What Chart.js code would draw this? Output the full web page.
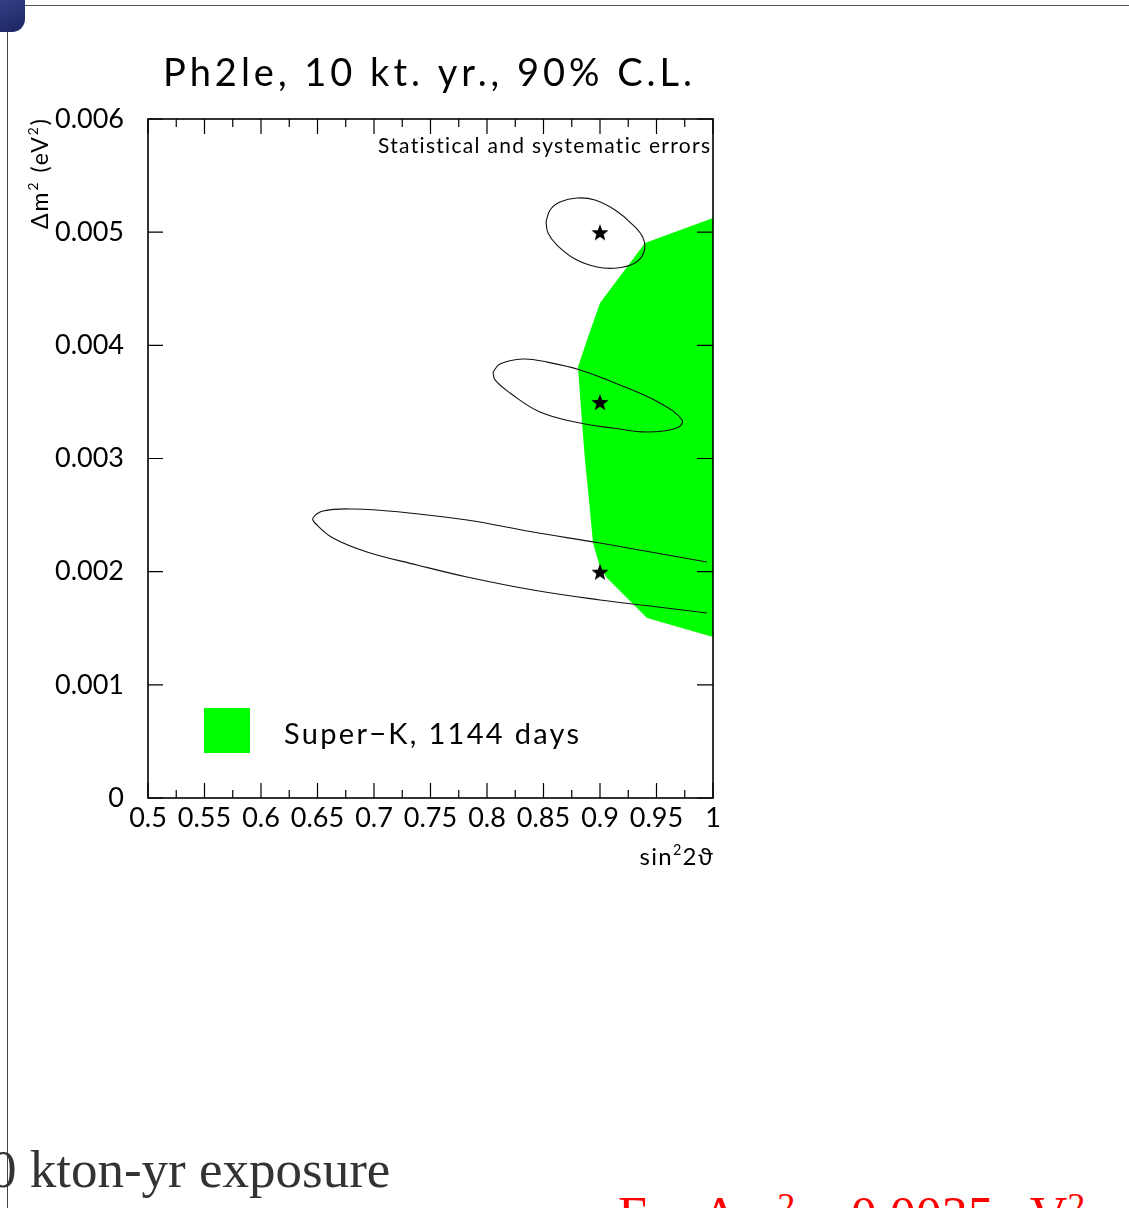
<!DOCTYPE html>
<html>
<head>
<meta charset="utf-8">
<script src="https://cdn.jsdelivr.net/npm/chart.js@4.4.0/dist/chart.umd.min.js"></script>
<style>
  body { margin: 0; background: #fff; width: 1129px; height: 1208px; overflow: hidden; position: relative; }
  #frameTop { position: absolute; left: 0; top: 5px; width: 1129px; height: 1px; background: #555; }
  #frameLeft { position: absolute; left: 7px; top: 5px; width: 1px; height: 1203px; background: #444; }
  #knob { position: absolute; left: -30px; top: -19px; width: 55px; height: 51px; border-radius: 13px;
          background: linear-gradient(160deg, #6a74b0 0%, #333f85 45%, #1c2560 100%); }
  #plot { position: absolute; left: 0; top: 0; width: 760px; height: 900px; }
  .slideText { position: absolute; font-family: "Liberation Serif", "Times New Roman", serif; white-space: nowrap; }
  #exposure { left: -10px; top: 1143px; font-size: 53px; line-height: 53px; color: #333; }
  #note { left: 618px; top: 1190px; font-size: 52px; line-height: 52px; color: #f00; }
  #note sup { font-size: 70%; line-height: 0; vertical-align: 0.4em; }
</style>
</head>
<body>
<div id="frameTop"></div>
<div id="frameLeft"></div>
<div id="knob"></div>
<div id="plot"><canvas id="contours"></canvas></div>
<div id="exposure" class="slideText">0 kton-yr exposure</div>
<div id="note" class="slideText">For &Delta;m<sup>2</sup> = 0.0035 eV<sup>2</sup></div>

<script>
// Super-K 1144 days allowed region (outline of the green area)
const skX = [1.0, 0.9398, 0.9, 0.8885, 0.8805, 0.8841, 0.8867, 0.8894, 0.8938, 0.9, 0.9062, 0.9416, 1.0];
const skY = [0.005125, 0.004904, 0.004374, 0.004047, 0.003808, 0.003314, 0.002987, 0.002722, 0.002253, 0.002041, 0.001944, 0.001591, 0.001423];

// 90% C.L. contour around dm2 = 0.005
const c1X = [0.8522, 0.8558, 0.8646, 0.8796, 0.8956, 0.9133, 0.9283, 0.9381, 0.9389, 0.9310, 0.9150, 0.8973, 0.8779, 0.8619, 0.8540, 0.8522];
const c1Y = [0.005090, 0.005196, 0.005267, 0.005302, 0.005284, 0.005196, 0.005072, 0.004948, 0.004825, 0.004727, 0.004683, 0.004692, 0.004763, 0.004886, 0.004992, 0.005090];

// contour around dm2 = 0.0035
const c2X = [0.8053, 0.8115, 0.8319, 0.8531, 0.8823, 0.9177, 0.9531, 0.9726, 0.9681, 0.9416, 0.9115, 0.8823, 0.8469, 0.8204, 0.8071, 0.8053];
const c2Y = [0.003764, 0.003835, 0.003879, 0.003852, 0.003782, 0.003649, 0.003490, 0.003340, 0.003269, 0.003234, 0.003269, 0.003313, 0.003411, 0.003579, 0.003694, 0.003764];

// contour around dm2 = 0.002 (runs out past sin2 = 1)
const c3X = [0.9947, 0.9, 0.8407, 0.7823, 0.7230, 0.6814, 0.6549, 0.6460, 0.6478, 0.6637, 0.6938, 0.7381, 0.7823, 0.8407, 0.9, 0.9442, 0.9947];
const c3Y = [0.002085, 0.002253, 0.002350, 0.002456, 0.002527, 0.002554, 0.002536, 0.002474, 0.002430, 0.002297, 0.002174, 0.002059, 0.001953, 0.001838, 0.001750, 0.001697, 0.001635];

// true points
const trueX = [0.9, 0.9, 0.9];
const trueY = [0.005, 0.0035, 0.002];

const xRange = [0.5, 1.0];
const yRange = [0, 0.006];

const titleText = 'Ph2le, 10 kt. yr., 90% C.L.';
const noteText = 'Statistical and systematic errors';
const legendText = 'Super\u2212K, 1144 days';

const pts = (xs, ys) => xs.map((x, i) => ({ x: x, y: ys[i] }));

function starImage(size) {
    const c = document.createElement('canvas');
    c.width = c.height = size;
    const g = c.getContext('2d');
    const r = size / 2, ri = r * 0.42;
    g.beginPath();
    for (let i = 0; i < 10; i++) {
        const a = -Math.PI / 2 + i * Math.PI / 5;
        const rr = i % 2 ? ri : r;
        g.lineTo(r + rr * Math.cos(a), r + 1 + rr * Math.sin(a));
    }
    g.closePath();
    g.fillStyle = '#000';
    g.fill();
    return c;
}

const FONT = 'Lato, "DejaVu Sans", sans-serif';

// draws text pieces, the flagged ones as superscripts
function drawRuns(ctx, runs, x, y, size, align, spacing) {
    const font = s => s + 'px ' + FONT;
    ctx.letterSpacing = (spacing || 0) + 'px';
    let w = 0;
    runs.forEach(([t, sup]) => { ctx.font = font(sup ? size * 0.6 : size); w += ctx.measureText(t).width; });
    w -= spacing || 0;
    let cx = align === 'right' ? x - w : align === 'center' ? x - w / 2 : x;
    ctx.textAlign = 'left';
    runs.forEach(([t, sup]) => {
        ctx.font = font(sup ? size * 0.6 : size);
        ctx.fillText(t, cx, sup ? y - size * 0.42 : y);
        cx += ctx.measureText(t).width;
    });
    ctx.letterSpacing = '0px';
}

const framePlugin = {
    id: 'frame',
    afterDatasetsDraw(chart) {
        const { ctx, chartArea: a, scales: { x, y } } = chart;
        ctx.save();
        ctx.strokeStyle = '#000';
        ctx.lineWidth = 1.2;
        ctx.beginPath();
        x.ticks.forEach((t, i) => {
            const px = x.getPixelForValue(t.value);
            ctx.moveTo(px, a.bottom); ctx.lineTo(px, a.bottom - 15);
            ctx.moveTo(px, a.top); ctx.lineTo(px, a.top + 15);
            if (i < x.ticks.length - 1) {
                const pm = x.getPixelForValue((t.value + x.ticks[i + 1].value) / 2);
                ctx.moveTo(pm, a.bottom); ctx.lineTo(pm, a.bottom - 8);
                ctx.moveTo(pm, a.top); ctx.lineTo(pm, a.top + 8);
            }
        });
        y.ticks.forEach(t => {
            const py = y.getPixelForValue(t.value);
            ctx.moveTo(a.left, py); ctx.lineTo(a.left + 15, py);
            ctx.moveTo(a.right, py); ctx.lineTo(a.right - 16, py);
        });
        ctx.stroke();
        ctx.lineWidth = 1.6;
        ctx.strokeRect(a.left, a.top, a.right - a.left, a.bottom - a.top);
        ctx.restore();
    },
    afterDraw(chart) {
        const { ctx, chartArea: a } = chart;
        ctx.save();
        ctx.fillStyle = '#000';
        ctx.textBaseline = 'alphabetic';

        drawRuns(ctx, [[titleText]], (a.left + a.right) / 2 - 3, a.top - 33, 38, 'center', 4);
        drawRuns(ctx, [[noteText]], a.right - 3, a.top + 34, 21, 'right', 1.3);

        // legend inside the frame
        ctx.fillStyle = '#00ff00';
        ctx.fillRect(a.left + 56, a.bottom - 90, 46, 45);
        ctx.fillStyle = '#000';
        drawRuns(ctx, [[legendText]], a.left + 136, a.bottom - 54, 29, 'left', 2.3);

        // axis titles
        drawRuns(ctx, [['sin'], ['2', true], ['2\u03d1']], a.right, a.bottom + 67, 24, 'right', 1.3);
        ctx.translate(48, a.top);
        ctx.rotate(-Math.PI / 2);
        drawRuns(ctx, [['\u0394m'], ['2', true], [' (eV'], ['2', true], [')']], 0, 0, 23, 'right', 2);
        ctx.restore();
    }
};

const tickFont = { family: FONT, size: 27 };

new Chart(document.getElementById('contours'), {
    type: 'scatter',
    data: {
        datasets: [
            {
                label: 'Super-K',
                data: pts(skX, skY),
                showLine: true,
                fill: 'shape',
                backgroundColor: '#00ff00',
                borderColor: '#00ff00',
                borderWidth: 0,
                pointRadius: 0,
                tension: 0,
                order: 3
            },
            ...[[c1X, c1Y], [c2X, c2Y], [c3X, c3Y]].map(([xs, ys]) => ({
                label: 'contour',
                data: pts(xs, ys),
                showLine: true,
                fill: false,
                borderColor: '#111',
                borderWidth: 1.1,
                pointRadius: 0,
                tension: 0.4,
                order: 2
            })),
            {
                label: 'true',
                data: pts(trueX, trueY),
                pointStyle: starImage(18),
                pointRadius: 9,
                showLine: false,
                order: 1
            }
        ]
    },
    options: {
        responsive: true,
        maintainAspectRatio: false,
        animation: false,
        events: [],
        layout: { padding: { top: 119, right: 47, left: 0, bottom: 0 } },
        plugins: { legend: { display: false }, tooltip: { enabled: false }, title: { display: false } },
        scales: {
            x: {
                type: 'linear',
                min: xRange[0], max: xRange[1],
                grid: { display: false, drawTicks: false },
                border: { display: false },
                afterFit: s => { s.height = 102; },
                ticks: {
                    stepSize: 0.05, autoSkip: false, maxRotation: 0, padding: 4,
                    color: '#000', font: tickFont,
                    callback: v => String(+v.toFixed(2))
                }
            },
            y: {
                type: 'linear',
                min: yRange[0], max: yRange[1],
                grid: { display: false, drawTicks: false },
                border: { display: false },
                afterFit: s => { s.width = 148; },
                ticks: {
                    stepSize: 0.001, padding: 24,
                    color: '#000', font: tickFont,
                    callback: v => (Math.abs(v) < 1e-9 ? '0' : v.toFixed(3))
                }
            }
        }
    },
    plugins: [framePlugin]
});
</script>
</body>
</html>
